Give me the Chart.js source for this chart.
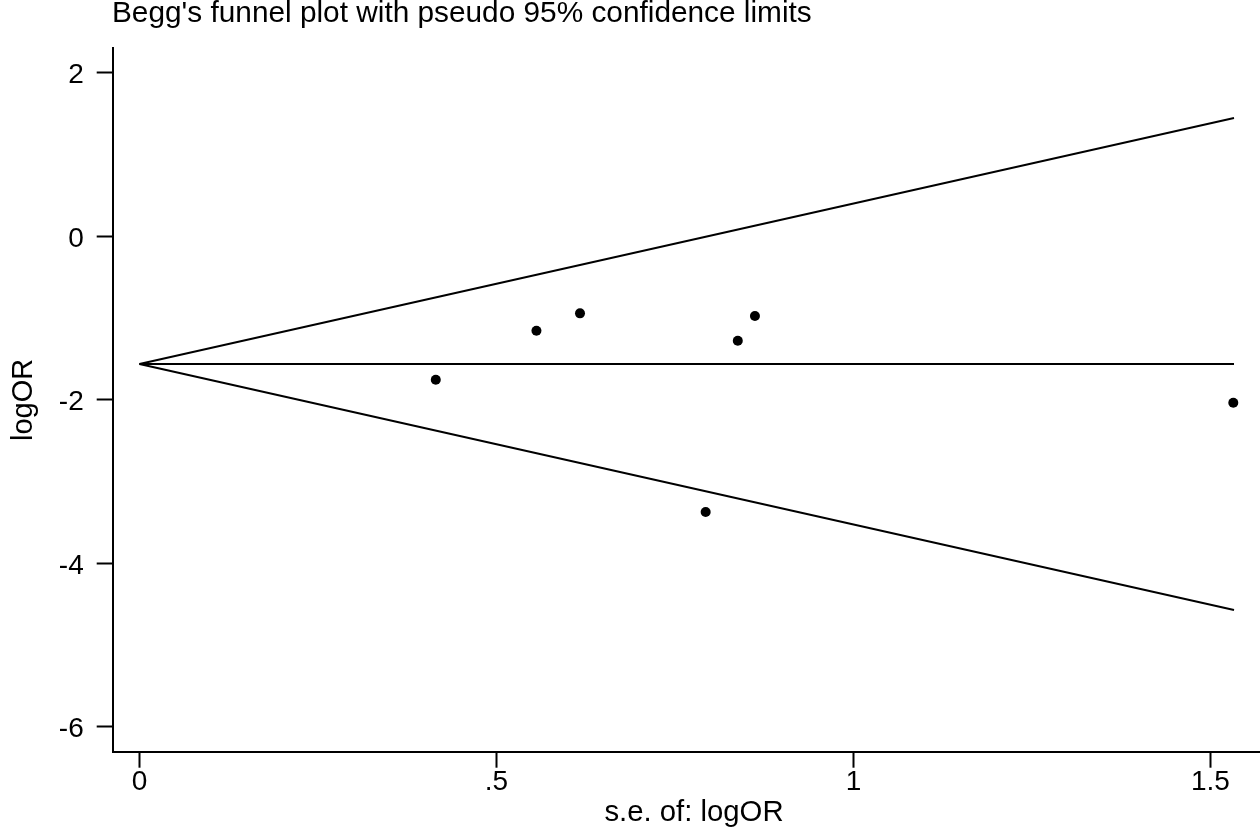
<!DOCTYPE html>
<html>
<head>
<meta charset="utf-8">
<title>Begg's funnel plot</title>
<script src="https://cdn.jsdelivr.net/npm/chart.js@4.4.1/dist/chart.umd.min.js"></script>
<style>
  html, body { margin: 0; padding: 0; background: #fff; }
  canvas { display: block; }
</style>
</head>
<body>
<canvas id="funnelChart" width="1260" height="828"></canvas>
<script>
  // Estudos: erro padrão e logOR
  const studySe = [0.415, 0.556, 0.617, 0.793, 0.838, 0.862, 1.532];
  const studyLogOR = [-1.758, -1.158, -0.946, -3.376, -1.281, -0.979, -2.039];

  // Funil (limites pseudo 95%)
  const funnelSe = [0, 1.533];
  const funnelUpper = [-1.566, 1.443];
  const funnelPooled = [-1.566, -1.566];
  const funnelLower = [-1.566, -4.575];

  // Marcas dos eixos
  const xTicks = [0, 0.5, 1, 1.5];
  const xTickLabels = ['0', '.5', '1', '1.5'];
  const yTicks = [2, 0, -2, -4, -6];
  const yTickLabels = ['2', '0', '-2', '-4', '-6'];

  const fontFamily = '"Liberation Sans", Arial, sans-serif';

  function toPoints(xs, ys) {
    return xs.map((x, i) => ({ x: x, y: ys[i] }));
  }

  function lineDataset(ys) {
    return {
      type: 'line',
      data: toPoints(funnelSe, ys),
      borderColor: '#000',
      borderWidth: 1.9,
      pointRadius: 0,
      fill: false,
      tension: 0,
    };
  }

  // Título e rótulo do eixo x (o gráfico original foi cortado à direita)
  const textPlugin = {
    id: 'plotTexts',
    afterDraw(chart) {
      const c = chart.ctx;
      c.save();
      c.fillStyle = '#000';
      c.font = '29.8px ' + fontFamily;
      c.textAlign = 'left';
      c.textBaseline = 'alphabetic';
      c.fillText("Begg's funnel plot with pseudo 95% confidence limits", 112, 21.7);
      c.font = '29.3px ' + fontFamily;
      c.textAlign = 'center';
      c.fillText('s.e. of: logOR', 694, 821);
      c.restore();
    },
  };

  const config = {
    type: 'scatter',
    data: {
      datasets: [
        lineDataset(funnelUpper),
        lineDataset(funnelPooled),
        lineDataset(funnelLower),
        {
          type: 'scatter',
          data: toPoints(studySe, studyLogOR),
          backgroundColor: '#000',
          borderWidth: 0,
          pointRadius: 5,
        },
      ],
    },
    options: {
      responsive: false,
      animation: false,
      devicePixelRatio: 1,
      layout: {
        autoPadding: false,
        padding: { top: 48, left: 0, right: 0, bottom: 0 },
      },
      plugins: {
        legend: { display: false },
        tooltip: { enabled: false },
      },
      scales: {
        x: {
          type: 'linear',
          min: -0.0375,
          max: 1.5694,
          afterFit(scale) { scale.height = 76.3; },
          afterBuildTicks(scale) { scale.ticks = xTicks.map(v => ({ value: v })); },
          grid: {
            drawOnChartArea: false,
            drawTicks: true,
            tickLength: 16,
            tickColor: '#000',
            tickWidth: 2,
          },
          border: { display: true, color: '#000', width: 2 },
          ticks: {
            color: '#000',
            padding: 0,
            maxRotation: 0,
            font: { family: fontFamily, size: 28, lineHeight: 1.05 },
            callback: function (value) {
              const i = xTicks.indexOf(value);
              return i >= 0 ? xTickLabels[i] : '';
            },
          },
        },
        y: {
          type: 'linear',
          min: -6.308,
          max: 2.2997,
          afterFit(scale) { scale.width = 112.7; },
          afterBuildTicks(scale) { scale.ticks = yTicks.map(v => ({ value: v })); },
          grid: {
            drawOnChartArea: false,
            drawTicks: true,
            tickLength: 16,
            tickColor: '#000',
            tickWidth: 2,
          },
          border: { display: true, color: '#000', width: 2 },
          ticks: {
            color: '#000',
            padding: 13,
            labelOffset: 3,
            font: { family: fontFamily, size: 28 },
            callback: function (value) {
              const i = yTicks.indexOf(value);
              return i >= 0 ? yTickLabels[i] : '';
            },
          },
          title: {
            display: true,
            text: 'logOR',
            color: '#000',
            padding: { top: 6.6, bottom: 0 },
            font: { family: fontFamily, size: 29, lineHeight: 1.2 },
          },
        },
      },
    },
    plugins: [textPlugin],
  };

  // Inicializa o gráfico:
  const ctx = document.getElementById('funnelChart').getContext('2d');
  new Chart(ctx, config);
</script>
</body>
</html>
